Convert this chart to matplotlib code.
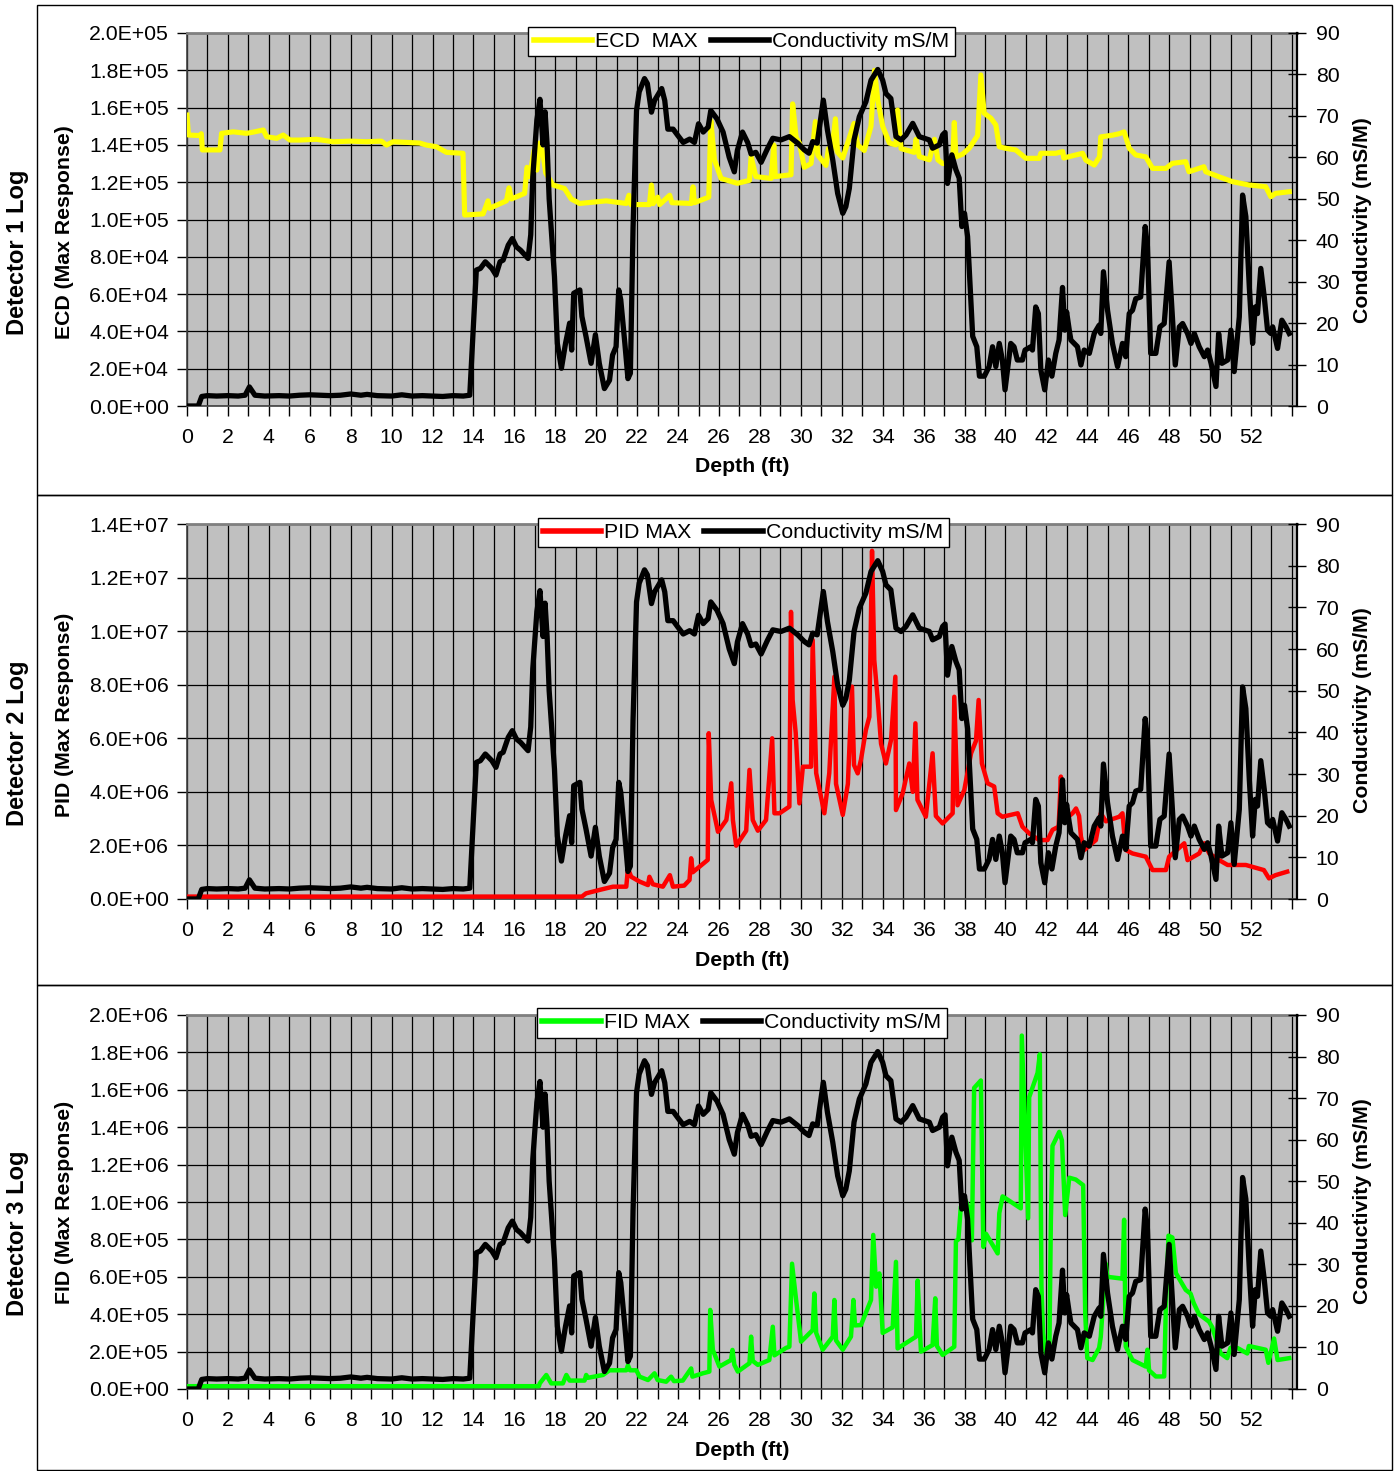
import numpy as np
import matplotlib
matplotlib.use('Agg')
import matplotlib.pyplot as plt
from matplotlib.patches import Rectangle
from matplotlib.lines import Line2D
from matplotlib.ticker import MultipleLocator, FuncFormatter

plt.rcParams['font.family'] = ['Liberation Sans', 'DejaVu Sans']

# ---------------- data ----------------
cond_depth = [0.0, 0.55, 0.72, 1.0, 1.45, 2.0, 2.5, 2.84, 3.05, 3.32, 3.8, 4.5, 5.0, 5.5, 6.0, 6.5, 7.0,
              7.5, 8.0, 8.5, 8.8, 9.3, 10.0, 10.5, 11.0, 11.5, 12.0, 12.5, 13.0, 13.5, 13.82, 14.14,
              14.34, 14.58, 14.9, 15.1, 15.3, 15.45, 15.7, 15.9, 16.1, 16.3, 16.67, 16.8, 16.9, 17.1,
              17.25, 17.4, 17.5, 17.6, 17.7, 17.96, 18.1, 18.3, 18.5, 18.7, 18.8, 18.9, 19.2, 19.3,
              19.5, 19.75, 19.96, 20.15, 20.4, 20.65, 20.8, 20.97, 21.1, 21.2, 21.4, 21.55, 21.67,
              21.8, 21.97, 22.1, 22.36, 22.5, 22.7, 22.85, 23.2, 23.35, 23.5, 23.76, 24.0, 24.25,
              24.57, 24.8, 25.0, 25.23, 25.47, 25.6, 25.9, 26.2, 26.5, 26.75, 26.9, 27.15, 27.4,
              27.57, 27.8, 28.06, 28.38, 28.63, 29.03, 29.44, 29.85, 30.17, 30.4, 30.58, 30.8, 31.1,
              31.3, 31.56, 31.8, 32.05, 32.2, 32.37, 32.6, 32.86, 33.18, 33.43, 33.76, 34.0, 34.16,
              34.4, 34.65, 34.9, 35.14, 35.47, 35.79, 36.28, 36.44, 36.77, 36.93, 37.05, 37.17,
              37.38, 37.58, 37.74, 37.87, 38.0, 38.15, 38.4, 38.6, 38.73, 38.97, 39.2, 39.37, 39.53,
              39.7, 39.85, 39.98, 40.26, 40.42, 40.58, 40.83, 40.96, 41.24, 41.32, 41.48, 41.61,
              41.73, 41.92, 42.1, 42.27, 42.46, 42.62, 42.79, 42.9, 42.99, 43.12, 43.2, 43.36,
              43.52, 43.69, 43.85, 44.1, 44.34, 44.58, 44.66, 44.79, 44.99, 45.23, 45.48, 45.72,
              45.88, 46.05, 46.21, 46.37, 46.61, 46.83, 46.94, 47.1, 47.35, 47.55, 47.76, 48.0,
              48.3, 48.5, 48.66, 48.9, 49.07, 49.23, 49.47, 49.72, 49.88, 50.05, 50.29, 50.42,
              50.58, 50.86, 51.02, 51.18, 51.43, 51.59, 51.75, 51.92, 52.08, 52.21, 52.32, 52.48,
              52.65, 52.81, 52.97, 53.06, 53.3, 53.51, 53.71, 53.87]
cond_ms_m = [0, 0, 2.3, 2.5, 2.4, 2.5, 2.4, 2.6, 4.6, 2.6, 2.4, 2.5, 2.4, 2.6, 2.7, 2.6, 2.5,
             2.6, 2.9, 2.6, 2.8, 2.5, 2.4, 2.7, 2.4, 2.5, 2.4, 2.3, 2.5, 2.4, 2.6, 32.8,
             33.2, 34.8, 33.2, 31.6, 34.8, 35.2, 38.8, 40.4, 38.4, 37.6, 35.6, 41.3, 55.3, 69.0,
             74.0, 63.0, 71.0, 63.0, 50.0, 31.2, 15.1, 9.1, 15.1, 20.0, 13.5, 27.2, 28.0, 21.6,
             16.8, 10.3, 17.2, 10.3, 4.2, 6.2, 12.3, 14.3, 28.0, 25.6, 15.1, 6.6, 7.9,
             43.0, 71.3, 75.8, 79.0, 77.8, 70.9, 73.7, 76.6, 73.7, 66.8, 66.8, 65.2, 63.6,
             64.4, 63.6, 68.1, 66.1, 67.3, 71.3, 69.3, 66.1, 60.0, 56.5, 61.7, 66.1, 63.6,
             60.8, 61.2, 58.8, 62.2, 64.6, 64.2, 65.0, 63.4, 61.8, 61.0, 63.8, 63.4, 73.8,
             66.6, 59.4, 51.3, 46.5, 48.1, 52.5, 64.2, 69.8, 73.4, 78.6, 81.2, 78.6, 75.4,
             74.2, 65.0, 64.2, 65.4, 68.2, 65.0, 64.2, 62.2, 63.0, 65.4, 66.0, 53.7,
             60.6, 57.0, 55.0, 43.3, 46.5, 40.9, 16.8, 14.3, 7.2, 7.2, 9.5, 14.3, 9.5,
             15.1, 11.1, 3.9, 15.1, 14.3, 11.1, 11.1, 13.5, 14.3, 13.5, 23.9, 22.3,
             8.7, 3.9, 11.1, 7.2, 12.7, 15.9, 28.6, 18.3, 22.7, 18.3, 15.9, 15.1,
             14.3, 9.9, 13.5, 12.7, 17.5, 19.5, 17.5, 32.4, 23.1, 15.1, 9.5, 15.1,
             11.9, 22.3, 23.1, 25.9, 26.3, 43.3, 38.5, 12.7, 12.7, 19.1, 19.9, 34.8,
             9.9, 19.1, 19.9, 17.5, 15.1, 17.5, 14.3, 11.9, 13.5, 10.3, 4.7, 17.5,
             10.3, 11.1, 18.3, 8.3, 21.5, 50.9, 45.7, 28.6, 15.1, 23.9, 22.3, 33.2,
             26.3, 18.3, 17.5, 19.1, 13.9, 20.7, 19.1, 17.5]

ecd_depth = [0.0, 0.07, 0.63, 0.7, 0.75, 1.61, 1.69, 2.26, 2.91, 3.3, 3.73, 3.89, 4.38, 4.7, 5.03,
             5.52, 6.33, 7.14, 8.0, 8.77, 9.5, 9.75, 10.07, 11.37, 11.7, 12.19, 12.68, 13.49,
             13.57, 14.47, 14.71, 14.79, 15.61, 15.74, 15.85, 16.5, 16.62, 16.75, 16.96, 17.1,
             17.23, 17.4, 17.53, 17.89, 18.45, 18.78, 19.19, 20.49, 21.47, 21.6, 21.7, 22.6,
             22.7, 22.78, 23.0, 23.1, 23.59, 23.7, 24.65, 24.73, 24.8, 25.5, 25.6, 25.78, 26.1,
             26.9, 27.49, 27.57, 27.8, 28.55, 28.68, 28.75, 29.52, 29.6, 29.77, 29.93, 30.17,
             30.5, 30.71, 30.83, 31.23, 31.35, 31.5, 31.69, 31.8, 32.05, 32.6, 32.78, 33.1,
             33.43, 33.6, 33.76, 34.0, 34.33, 34.65, 34.73, 34.9, 35.55, 35.63, 35.79, 36.28,
             36.53, 36.7, 36.93, 37.42, 37.5, 37.58, 37.9, 38.23, 38.64, 38.8, 38.96, 39.29,
             39.53, 39.7, 40.0, 40.5, 41.0, 41.65, 41.73, 42.46, 42.8, 42.85, 43.77, 43.93,
             44.34, 44.6, 44.66, 45.23, 45.56, 45.8, 46.05, 46.37, 46.86, 47.19, 47.84, 48.16,
             48.81, 48.97, 49.7, 49.79, 50.44, 51.09, 51.9, 52.72, 52.97, 53.2, 53.87]
ecd_max_e5 = [1.56, 1.453, 1.45, 1.46, 1.373, 1.373, 1.462, 1.47, 1.462, 1.47, 1.48, 1.444, 1.435,
              1.453, 1.426, 1.426, 1.43, 1.417, 1.42, 1.417, 1.42, 1.399, 1.417, 1.41, 1.399,
              1.39, 1.36, 1.355, 1.024, 1.03, 1.10, 1.06, 1.10, 1.17, 1.11, 1.14, 1.28, 1.23,
              1.37, 1.265, 1.41, 1.355, 1.25, 1.185, 1.166, 1.11, 1.086, 1.10, 1.086, 1.13, 1.08,
              1.08, 1.185, 1.085, 1.12, 1.08, 1.13, 1.09, 1.086, 1.175, 1.09, 1.12, 1.53, 1.32,
              1.22, 1.194, 1.21, 1.337, 1.23, 1.22, 1.40, 1.23, 1.24, 1.62, 1.44, 1.41, 1.28,
              1.30, 1.525, 1.345, 1.29, 1.38, 1.35, 1.54, 1.36, 1.33, 1.515, 1.40, 1.37, 1.50,
              1.80, 1.64, 1.50, 1.41, 1.40, 1.587, 1.38, 1.36, 1.43, 1.337, 1.32, 1.43, 1.32,
              1.30, 1.31, 1.52, 1.336, 1.35, 1.382, 1.45, 1.775, 1.57, 1.543, 1.507, 1.39,
              1.382, 1.373, 1.328, 1.328, 1.355, 1.355, 1.364, 1.33, 1.355, 1.318, 1.292, 1.336,
              1.443, 1.452, 1.46, 1.47, 1.382, 1.346, 1.336, 1.274, 1.274, 1.301, 1.31, 1.256,
              1.283, 1.256, 1.229, 1.203, 1.185, 1.176, 1.122, 1.14, 1.149]

pid_depth = [0.0, 19.3, 19.5, 20.17, 20.82, 21.47, 21.55, 21.71, 22.12, 22.53, 22.6, 22.77, 23.26,
             23.6, 23.75, 24.3, 24.56, 24.64, 24.72, 25.45, 25.5, 25.62, 25.95, 26.36, 26.6,
             26.68, 26.84, 27.33, 27.49, 27.65, 27.9, 28.3, 28.6, 28.71, 28.96, 29.44, 29.52,
             29.6, 29.75, 29.93, 30.1, 30.5, 30.58, 30.75, 31.15, 31.39, 31.64, 31.72, 32.05,
             32.3, 32.5, 32.6, 32.78, 32.94, 33.18, 33.35, 33.48, 33.59, 33.76, 33.92, 34.16,
             34.41, 34.62, 34.65, 34.98, 35.3, 35.47, 35.6, 35.7, 36.11, 36.44, 36.6, 36.93,
             37.42, 37.5, 37.66, 37.99, 38.32, 38.56, 38.69, 38.85, 39.13, 39.45, 39.62, 39.85,
             40.6, 40.83, 41.16, 41.65, 42.06, 42.3, 42.6, 42.71, 42.79, 43.28, 43.45, 43.6,
             43.69, 43.85, 44.42, 44.66, 44.91, 45.56, 45.72, 45.88, 46.21, 46.86, 47.19, 47.84,
             48.0, 48.33, 48.74, 48.9, 49.47, 49.72, 49.96, 50.2, 50.45, 50.86, 51.75, 52.63,
             52.88, 53.2, 53.77]
pid_max_e6 = [0.09, 0.09, 0.21, 0.34, 0.46, 0.46, 1.14, 0.83, 0.65, 0.52, 0.83, 0.55, 0.46,
              0.89, 0.46, 0.5, 0.71, 1.52, 1.0, 1.46, 6.19, 3.70, 2.51, 2.95, 4.32,
              2.95, 1.99, 2.55, 4.82, 2.95, 2.55, 2.95, 6.0, 3.2, 3.2, 3.45, 10.72,
              7.43, 6.2, 3.57, 4.94, 4.94, 9.67, 4.7, 3.2, 4.7, 8.3, 4.3, 3.14,
              4.3, 7.93, 5.0, 4.69, 5.2, 6.31, 6.8, 13.0, 8.92, 7.43, 5.8, 5.06,
              5.94, 8.3, 3.32, 3.95, 5.06, 4.0, 6.56, 3.7, 3.07, 5.44, 3.1, 2.82,
              3.2, 7.55, 3.5, 4.07, 5.44, 5.9, 7.43, 5.06, 4.32, 4.2, 3.2, 3.07,
              3.2, 2.7, 2.45, 2.2, 2.2, 2.58, 2.7, 4.57, 2.9, 3.2, 3.38, 3.1,
              2.33, 1.83, 2.2, 3.2, 2.9, 3.07, 3.2, 1.83, 1.7, 1.58, 1.08, 1.08,
              1.58, 1.8, 2.08, 1.45, 1.7, 2.08, 1.7, 1.58, 1.45, 1.27, 1.27, 1.08,
              0.77, 0.89, 1.02]

fid_depth = [0.0, 17.2, 17.24, 17.56, 17.8, 18.37, 18.54, 18.7, 19.43, 19.51, 19.6, 20.33, 20.65,
             21.47, 21.55, 21.65, 21.96, 22.12, 22.53, 22.85, 23.0, 23.42, 23.66, 23.8, 24.23,
             24.64, 24.7, 25.21, 25.53, 25.57, 25.7, 26.02, 26.59, 26.66, 26.75, 26.92, 27.49,
             27.57, 27.65, 27.9, 28.46, 28.63, 28.71, 29.28, 29.44, 29.57, 29.77, 30.01, 30.58,
             30.66, 30.75, 31.07, 31.56, 31.64, 31.72, 32.05, 32.45, 32.57, 32.65, 32.94, 33.43,
             33.54, 33.68, 33.84, 34.0, 34.49, 34.65, 34.73, 35.63, 35.71, 35.87, 36.44, 36.57,
             36.65, 36.93, 37.5, 37.58, 37.7, 37.82, 38.04, 38.2, 38.36, 38.47, 38.8, 38.92,
             39.05, 39.62, 39.7, 39.86, 40.75, 40.8, 41.0, 41.11, 41.16, 41.57, 41.68, 41.76,
             41.84, 41.97, 42.15, 42.22, 42.3, 42.63, 42.76, 42.92, 43.12, 43.44, 43.8, 43.9,
             44.0, 44.26, 44.58, 44.66, 44.9, 44.98, 45.72, 45.8, 45.88, 46.21, 46.86, 46.94,
             47.02, 47.35, 47.76, 47.84, 47.97, 48.16, 48.33, 48.81, 49.05, 49.2, 49.46, 49.95,
             50.11, 50.52, 50.84, 51.0, 51.33, 51.82, 51.9, 52.72, 52.85, 53.13, 53.3, 53.87]
fid_max_e5 = [0.15, 0.15, 0.30, 0.75, 0.30, 0.30, 0.75, 0.45, 0.45, 0.75, 0.6, 0.75, 1.0,
              1.0, 1.27, 1.0, 1.0, 0.66, 0.48, 0.84, 0.48, 0.39, 0.66, 0.42, 0.45,
              1.1, 0.66, 0.84, 0.93, 4.23, 2.09, 1.2, 1.55, 2.09, 1.3, 0.93, 1.38,
              2.8, 1.5, 1.29, 1.55, 3.33, 1.8, 2.2, 2.26, 6.7, 4.76, 2.53, 3.15,
              5.11, 3.0, 2.1, 2.8, 4.76, 2.6, 2.1, 2.8, 4.76, 3.4, 3.42, 4.76,
              8.24, 5.47, 6.18, 3.0, 3.3, 6.8, 2.17, 2.8, 5.8, 2.0, 2.35, 4.85,
              2.3, 1.82, 2.26, 7.9, 8.0, 9.75, 10.1, 9.7, 7.95, 16.1, 16.5, 7.6,
              8.3, 7.25, 9.4, 10.3, 9.66, 18.9, 12.6, 9.13, 15.6, 16.9, 17.9, 5.5,
              3.0, 1.9, 2.2, 9.0, 13.0, 13.75, 13.3, 9.3, 11.3, 11.2, 10.9, 4.0,
              1.65, 1.55, 2.2, 2.8, 6.7, 6.0, 5.9, 9.05, 2.27, 1.55, 1.2, 2.1,
              1.0, 0.67, 0.67, 4.4, 8.2, 8.1, 6.2, 5.3, 5.1, 4.6, 4.0, 3.6,
              3.3, 1.9, 1.65, 2.2, 2.2, 1.9, 2.3, 2.1, 1.4, 2.7, 1.55, 1.65]

panel_titles = ['Detector 1 Log', 'Detector 2 Log', 'Detector 3 Log']
left_labels = ['ECD (Max Response)', 'PID (Max Response)', 'FID (Max Response)']
legend_labels = ['ECD  MAX', 'PID MAX', 'FID MAX']
cond_label = 'Conductivity mS/M'
right_label = 'Conductivity (mS/M)'
x_label = 'Depth (ft)'
left_max = [2.0e5, 1.4e7, 2.0e6]
left_step = [2.0e4, 2.0e6, 2.0e5]
right_max = 90

# ---------------- layout ----------------
W, H = 1400, 1471
fig = plt.figure(figsize=(W / 100, H / 100), dpi=100)
fig.patch.set_facecolor('white')


def fx(px):
    return px / W


def fy(py):
    return 1 - py / H


FS = 15.3
series = [
    (np.array(ecd_depth), np.array(ecd_max_e5) * 1e5, '#FFFF00', 3.7),
    (np.array(pid_depth), np.array(pid_max_e6) * 1e6, '#FF0000', 3.2),
    (np.array(fid_depth), np.array(fid_max_e5) * 1e5, '#00FF00', 3.2),
]
geo = [
    dict(top=33, bot=406, ftop=5, fbot=495, leg=(741.5, 41.5), ylab=232, title=252, rlab=220),
    dict(top=524, bot=899, ftop=495, fbot=985, leg=(743, 532.5), ylab=715, title=743, rlab=710),
    dict(top=1015, bot=1389, ftop=985, fbot=1470, leg=(742, 1023), ylab=1202, title=1233, rlab=1201),
]
AX_L, AX_R = 187, 1297

for i in range(3):
    g = geo[i]
    dep, vals, col, lw = series[i]
    fig.add_artist(Rectangle((fx(37), fy(g['fbot'])), fx(1392) - fx(37), fy(g['ftop']) - fy(g['fbot']),
                             transform=fig.transFigure, fill=False, ec='black', lw=1.0, zorder=0))
    ax = fig.add_axes([fx(AX_L), fy(g['bot']), fx(AX_R) - fx(AX_L), fy(g['top']) - fy(g['bot'])])
    ax.set_facecolor('#C0C0C0')
    ax.set_xlim(0, 54.25)
    ax.set_ylim(0, left_max[i])
    ax.xaxis.set_major_locator(MultipleLocator(1))
    ax.xaxis.set_major_formatter(FuncFormatter(
        lambda v, p: f"{int(round(v))}" if (int(round(v)) % 2 == 0 and v < 53) else ""))
    ax.set_yticks([k * left_step[i] for k in range(int(round(left_max[i] / left_step[i])) + 1)])
    ax.yaxis.set_major_formatter(FuncFormatter(lambda v, p: f"{v:.1E}"))
    ax.grid(True, color='black', lw=0.9)
    ax.tick_params(axis='x', direction='out', length=7, width=1, pad=9, labelsize=FS)
    ax.tick_params(axis='y', direction='out', length=7, width=1, pad=6, labelsize=FS)
    for s in ['left', 'bottom']:
        ax.spines[s].set_color('#404040')
        ax.spines[s].set_linewidth(1.2)
    ax.spines['top'].set_color('#808080')
    ax.spines['top'].set_linewidth(2)
    ax.spines['right'].set_visible(False)
    ax.plot(dep, vals, color=col, lw=lw, solid_joinstyle='round', zorder=3)

    ax2 = ax.twinx()
    ax2.set_ylim(0, right_max)
    ax2.yaxis.set_major_locator(MultipleLocator(10))
    ax2.tick_params(axis='y', direction='inout', length=13, width=1, pad=7, labelsize=FS)
    for s in ['left', 'bottom', 'top']:
        ax2.spines[s].set_visible(False)
    ax2.spines['right'].set_color('black')
    ax2.spines['right'].set_linewidth(1.6)
    ax2.plot(cond_depth, cond_ms_m, color='black', lw=3.8, solid_joinstyle='round', zorder=3)

    handles = [Line2D([], [], color=col, lw=4.0), Line2D([], [], color='black', lw=4.0)]
    leg = ax2.legend(handles, [legend_labels[i], cond_label], ncol=2, loc='center',
                     bbox_to_anchor=(fx(g['leg'][0]), fy(g['leg'][1])), bbox_transform=fig.transFigure,
                     frameon=True, fancybox=False, framealpha=1, edgecolor='black', facecolor='white',
                     fontsize=FS, handlelength=2.75, handletextpad=0.15, columnspacing=0.6,
                     borderpad=0.25, borderaxespad=0)
    leg.get_frame().set_linewidth(1.0)
    leg.set_zorder(10)

    fig.text(fx(742), fy(g['bot'] + 61), x_label, ha='center', va='center', fontsize=FS, fontweight='bold')
    fig.text(fx(65), fy(g['ylab']), left_labels[i], rotation=90, ha='center', va='center',
             fontsize=FS, fontweight='bold')
    fig.text(fx(18), fy(g['title']), panel_titles[i], rotation=90, ha='center', va='center',
             fontsize=17, fontweight='bold')
    fig.text(fx(1362), fy(g['rlab']), right_label, rotation=90, ha='center', va='center',
             fontsize=FS, fontweight='bold')

fig.savefig('out.png', dpi=100, facecolor='white')
